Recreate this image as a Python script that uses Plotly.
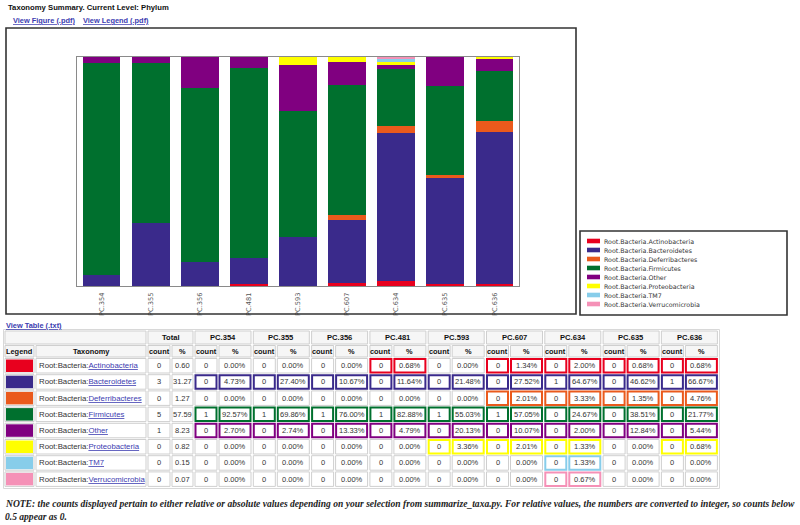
import plotly.graph_objects as go

# ---------------- data ----------------
samples = ["PC.354", "PC.355", "PC.356", "PC.481", "PC.593", "PC.607", "PC.634", "PC.635", "PC.636"]
taxa = ["Actinobacteria", "Bacteroidetes", "Deferribacteres", "Firmicutes",
        "Other", "Proteobacteria", "TM7", "Verrucomicrobia"]

actinobacteria = [0.00, 0.00, 0.00, 0.68, 0.00, 1.34, 2.00, 0.68, 0.68]
bacteroidetes = [4.73, 27.40, 10.67, 11.64, 21.48, 27.52, 64.67, 46.62, 66.67]
deferribacteres = [0.00, 0.00, 0.00, 0.00, 0.00, 2.01, 3.33, 1.35, 4.76]
firmicutes = [92.57, 69.86, 76.00, 82.88, 55.03, 57.05, 24.67, 38.51, 21.77]
other = [2.70, 2.74, 13.33, 4.79, 20.13, 10.07, 2.00, 12.84, 5.44]
proteobacteria = [0.00, 0.00, 0.00, 0.00, 3.36, 2.01, 1.33, 0.00, 0.68]
tm7 = [0.00, 0.00, 0.00, 0.00, 0.00, 0.00, 1.33, 0.00, 0.00]
verrucomicrobia = [0.00, 0.00, 0.00, 0.00, 0.00, 0.00, 0.67, 0.00, 0.00]

actinobacteria_counts = [0, 0, 0, 0, 0, 0, 0, 0, 0]
bacteroidetes_counts = [0, 0, 0, 0, 0, 0, 1, 0, 1]
deferribacteres_counts = [0, 0, 0, 0, 0, 0, 0, 0, 0]
firmicutes_counts = [1, 1, 1, 1, 1, 1, 0, 0, 0]
other_counts = [0, 0, 0, 0, 0, 0, 0, 0, 0]
proteobacteria_counts = [0, 0, 0, 0, 0, 0, 0, 0, 0]
tm7_counts = [0, 0, 0, 0, 0, 0, 0, 0, 0]
verrucomicrobia_counts = [0, 0, 0, 0, 0, 0, 0, 0, 0]

total_counts = [0, 3, 0, 5, 1, 0, 0, 0]
total_pct = [0.60, 31.27, 1.27, 57.59, 8.23, 0.82, 0.15, 0.07]

pct_series = [actinobacteria, bacteroidetes, deferribacteres, firmicutes,
              other, proteobacteria, tm7, verrucomicrobia]
count_series = [actinobacteria_counts, bacteroidetes_counts, deferribacteres_counts,
                firmicutes_counts, other_counts, proteobacteria_counts, tm7_counts,
                verrucomicrobia_counts]

# ---------------- styles ----------------
colors = ["#E8001E", "#3A2A8B", "#EA5A1C", "#00702E", "#800080", "#FFFF00", "#87CDEA", "#F591B7"]
SANS = "Liberation Sans, Arial, sans-serif"
MPL = "DejaVu Sans, sans-serif"
SERIF = "Liberation Serif, Times New Roman, serif"
LINK = "#3b3bb0"

W, H = 800, 525
fig = go.Figure()

# ---------------- stacked bar chart ----------------
for name, vals, col in zip(taxa, pct_series, colors):
    fig.add_trace(go.Bar(x=samples, y=vals, name="Root.Bacteria." + name,
                         marker=dict(color=col, line=dict(width=0)),
                         showlegend=False, xaxis="x", yaxis="y"))

# invisible trace to create the page-coordinate axes
fig.add_trace(go.Scatter(x=[0], y=[0], mode="markers", marker=dict(opacity=0),
                         showlegend=False, hoverinfo="skip", xaxis="x2", yaxis="y2"))

shapes = []
annots = []


def rect(x0, y0, x1, y1, line="#000", lw=1, fill=None):
    d = dict(type="rect", xref="x2", yref="y2", x0=x0, y0=y0, x1=x1, y1=y1,
             line=dict(color=line, width=lw), layer="above")
    if fill:
        d["fillcolor"] = fill
    if lw == 0:
        d["line"] = dict(width=0)
    shapes.append(d)


def text(x, y, s, size=7, color="#222", family=SANS, xanchor="center", yanchor="middle"):
    annots.append(dict(x=x, y=y, xref="x2", yref="y2", text=s, showarrow=False,
                       xanchor=xanchor, yanchor=yanchor,
                       font=dict(size=size, color=color, family=family), borderpad=0))


def u(s):
    return '<span style="text-decoration:underline">' + s + "</span>"


# page header
text(7, 7.5, "<b>Taxonomy Summary. Current Level: Phylum</b>", size=7.7, color="#111", xanchor="left")
text(12, 20, "<b>" + u("View Figure (.pdf)") + "</b>", size=7.4, color=LINK, xanchor="left")
text(82, 20, "<b>" + u("View Legend (.pdf)") + "</b>", size=7.4, color=LINK, xanchor="left")

# figure box and legend box
rect(6, 28, 576, 314, line="#333", lw=1.6)
rect(580, 231, 787, 315, line="#333", lw=1.6)
for i, (name, col) in enumerate(zip(taxa, colors)):
    yy = 241 + i * 9.0
    rect(587, yy - 2.3, 600, yy + 2.3, lw=0, fill=col)
    text(603, yy, "Root.Bacteria." + name, size=6.3, color="#333", family=MPL, xanchor="left")

# ---------------- table ----------------
text(5, 325, "<b>" + u("View Table (.txt)") + "</b>", size=7.4, color=LINK, xanchor="left")

GREY = "#cfcfcf"
HBG = "#f6f6f6"
x_leg = (5, 34)
x_tax = (36, 146)
x_tc = (148, 170)
x_tp = (172, 193)
pitch = 58.3
def x_sc(i):
    return (195 + pitch * i, 217 + pitch * i)
def x_sp(i):
    return (219 + pitch * i, 251 + pitch * i)

hy1 = (331, 344)
hy2 = (345.5, 357)
row_pitch = 16.2
def y_row(k):
    return (358.5 + row_pitch * k, 373 + row_pitch * k)

# outer border
rect(3.5, 329.5, 719.5, 488.5, line="#d8d8d8", lw=1)

# header row 1
rect(x_leg[0], hy1[0], x_tax[1], hy1[1], line=GREY, fill=HBG)
rect(x_tc[0], hy1[0], x_tp[1], hy1[1], line=GREY, fill=HBG)
text((x_tc[0] + x_tp[1]) / 2, (hy1[0] + hy1[1]) / 2, "<b>Total</b>", size=7.6, color="#111")
for i, s in enumerate(samples):
    a, b = x_sc(i)[0], x_sp(i)[1]
    rect(a, hy1[0], b, hy1[1], line=GREY, fill=HBG)
    text((a + b) / 2, (hy1[0] + hy1[1]) / 2, "<b>" + s + "</b>", size=7.6, color="#111")

# header row 2
hcells = [(x_leg, "Legend"), (x_tax, "Taxonomy"), (x_tc, "count"), (x_tp, "%")]
for i in range(len(samples)):
    hcells += [(x_sc(i), "count"), (x_sp(i), "%")]
for (a, b), s in hcells:
    rect(a, hy2[0], b, hy2[1], line=GREY, fill=HBG)
    text((a + b) / 2, (hy2[0] + hy2[1]) / 2, "<b>" + s + "</b>", size=7.4, color="#111")

# data rows
for k, name in enumerate(taxa):
    y0, y1 = y_row(k)
    ym = (y0 + y1) / 2
    col = colors[k]
    rect(x_leg[0], y0, x_leg[1], y1, line=GREY)
    rect(x_leg[0] + 1, y0 + 1, x_leg[1] - 1, y1 - 1, lw=0, fill=col)
    rect(x_tax[0], y0, x_tax[1], y1, line=GREY)
    text(x_tax[0] + 1.5, ym, "Root:Bacteria:" + '<span style="color:%s">' % LINK + u(name) + "</span>",
         size=7.8, color="#333", xanchor="left")
    rect(x_tc[0], y0, x_tc[1], y1, line=GREY)
    text((x_tc[0] + x_tc[1]) / 2, ym, str(total_counts[k]), size=7.5, color="#333")
    rect(x_tp[0], y0, x_tp[1], y1, line=GREY)
    text((x_tp[0] + x_tp[1]) / 2, ym, "%.2f" % total_pct[k], size=7.5, color="#333")
    for i in range(len(samples)):
        v = pct_series[k][i]
        c = count_series[k][i]
        on = v > 0
        for (a, b), s in ((x_sc(i), str(c)), (x_sp(i), "%.2f%%" % v)):
            if on:
                rect(a + 0.5, y0 + 0.5, b - 0.5, y1 - 0.5, line=col, lw=2)
            else:
                rect(a, y0, b, y1, line=GREY)
            text((a + b) / 2, ym, s, size=7.5, color="#333")

# note
note1 = ("<b><i>NOTE: the counts displayed pertain to either relative or absolute values depending on your "
         "selection from summarize_taxa.py. For relative values, the numbers are converted to integer, so counts below</i></b>")
note2 = "<b><i>0.5 appear as 0.</i></b>"
text(4, 503, note1, size=9.55, color="#222", family=SERIF, xanchor="left")
text(4, 516, note2, size=9.55, color="#222", family=SERIF, xanchor="left")

fig.update_layout(
    width=W, height=H, margin=dict(l=0, r=0, t=0, b=0),
    paper_bgcolor="white", plot_bgcolor="rgba(0,0,0,0)",
    barmode="stack", bargap=0.23, showlegend=False,
    xaxis=dict(domain=[77 / W, 519 / W], range=[-0.5, 8.5], showline=True, mirror=True,
               linecolor="#8a8a8a", linewidth=1, ticks="", showgrid=False, zeroline=False,
               tickangle=-90, tickfont=dict(size=6.6, color="#555", family=MPL), anchor="y",
               ticklabelstandoff=3),
    yaxis=dict(domain=[1 - 286 / H, 1 - 57 / H], range=[0, 100], showline=True, mirror=True,
               linecolor="#8a8a8a", linewidth=1, ticks="", showgrid=False, zeroline=False,
               showticklabels=False, anchor="x"),
    xaxis2=dict(domain=[0, 1], range=[0, W], visible=False, anchor="y2", fixedrange=True),
    yaxis2=dict(domain=[0, 1], range=[H, 0], visible=False, anchor="x2", fixedrange=True),
    shapes=shapes, annotations=annots,
)

fig.write_html("out.html", config={"displayModeBar": False},
               post_script="document.body.style.margin='0';document.body.style.overflow='hidden';")
